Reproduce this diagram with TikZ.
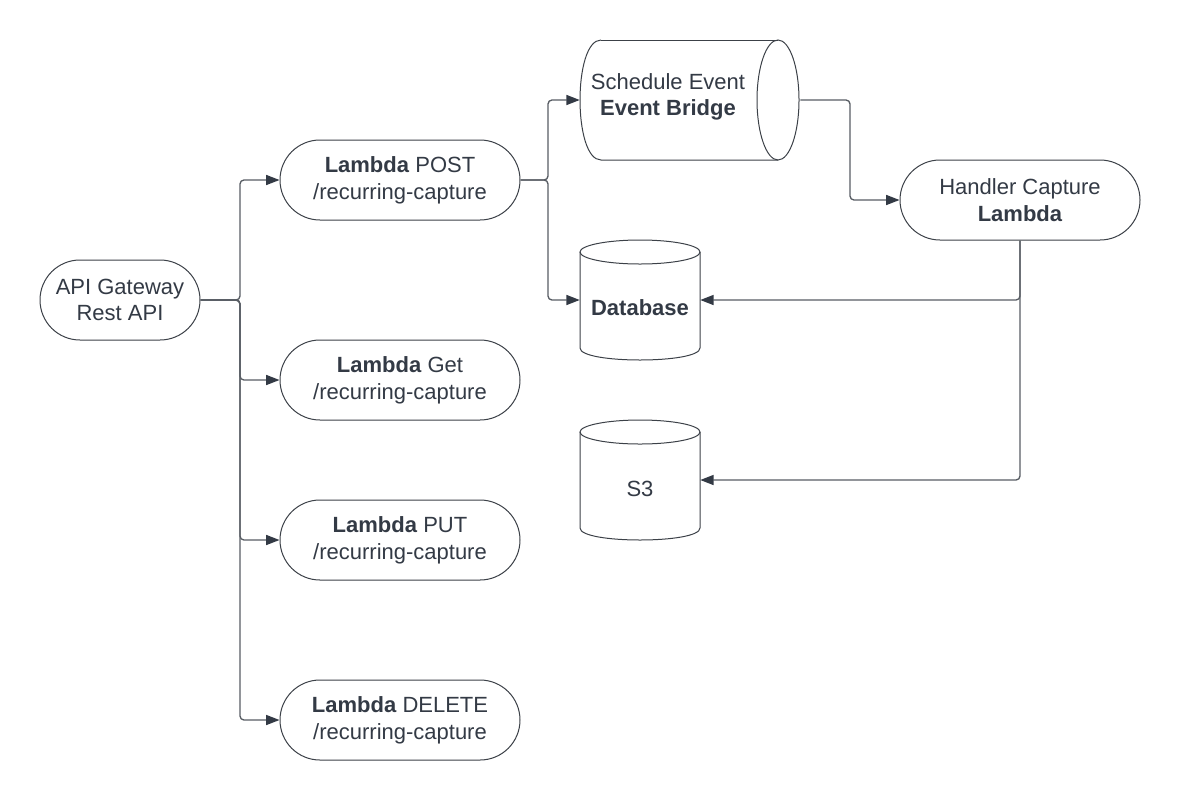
\documentclass[tikz,border=0pt]{standalone}
\usepackage{fontspec}
\setmainfont{Liberation Sans}
\usepackage{tikz}
\usetikzlibrary{arrows.meta}
\usepackage{xcolor}

\definecolor{shapecol}{RGB}{60,65,72}
\definecolor{linecol}{RGB}{88,93,100}
\definecolor{txtcol}{RGB}{51,58,69}

\tikzset{
  pill/.style={draw=shapecol, line width=0.75pt, rounded corners=30pt, minimum width=180pt, minimum height=60pt, inner sep=0pt, align=center, text=txtcol, font=\fontsize{16.5}{20}\selectfont},
  store/.style={minimum width=90pt, minimum height=90pt, inner sep=0pt},
  txt/.style={inner sep=0pt, align=center, text=txtcol, font=\fontsize{16.5}{20}\selectfont},
  outline/.style={draw=shapecol, line width=0.75pt},
  link/.style={draw=linecol, line width=1pt, rounded corners=3pt, -{Triangle[length=10pt,width=7.5pt,color=txtcol]}}
}

\begin{document}
\begin{tikzpicture}[x=0.75pt,y=0.75pt,yscale=-1,xscale=1]
\fill[white] (0,0) rectangle (1180,800);
\useasboundingbox (0,0) rectangle (1180,800);

%Shape: Rounded Rect [api]
\node[pill, minimum width=120pt] (api) at (120,300) {API Gateway\\Rest API};
%Shape: Rounded Rect [lambdas]
\node[pill] (post) at (400,180) {\textbf{Lambda} POST\\/recurring-capture};
\node[pill] (get) at (400,380) {\textbf{Lambda} Get\\/recurring-capture};
\node[pill] (put) at (400,540) {\textbf{Lambda} PUT\\/recurring-capture};
\node[pill] (del) at (400,720) {\textbf{Lambda} DELETE\\/recurring-capture};
%Shape: Rounded Rect [handler]
\node[pill] (handler) at (1020,200) {Handler Capture\\\textbf{Lambda}};

%Shape: Horizontal Cylinder [bridge]
\node[store, minimum width=165pt] (bridge) at (690,100) {};
\draw[outline] (601,40) .. controls (573,40) and (573,160) .. (601,160) -- (778,160) ;
\draw[outline] (601,40) -- (778,40) ;
\draw[outline] (778,100) ellipse [x radius=21, y radius=60] ;
% Text Node
\node[txt] (bridgetxt) at (668,97) {Schedule Event\\\textbf{Event Bridge}};

%Shape: Cylinder [db]
\node[store] (db) at (640,300) {};
\draw[outline] (580,252) -- (580,348) .. controls (580,364) and (700,364) .. (700,348) -- (700,252) ;
\draw[outline] (640,252) ellipse [x radius=60, y radius=12] ;
% Text Node
\node[txt] (dbtxt) at (640,308) {\textbf{Database}};

%Shape: Cylinder [s3]
\node[store] (s3) at (640,480) {};
\draw[outline] (580,432) -- (580,528) .. controls (580,544) and (700,544) .. (700,528) -- (700,432) ;
\draw[outline] (640,432) ellipse [x radius=60, y radius=12] ;
% Text Node
\node[txt] (s3txt) at (640,489) {S3};

%Straight Lines [api to lambdas]
\coordinate (split) at (240,300);
\foreach \n in {post,get,put,del}
  \draw[link] (api.east) -- (split) |- (\n.west);
%Straight Lines [post to bridge and db]
\coordinate (fork) at (548,180);
\draw[link] (post.east) -- (fork) |- (bridge.west);
\draw[link] (post.east) -- (fork) |- (db.west);
%Straight Lines [bridge to handler]
\coordinate (bend) at (850,100);
\draw[link] (bridge.east) -- (bend) |- (handler.west);
%Straight Lines [handler to stores]
\draw[link] (handler.south) |- (db.east);
\draw[link] (handler.south) |- (s3.east);

\end{tikzpicture}
\end{document}
